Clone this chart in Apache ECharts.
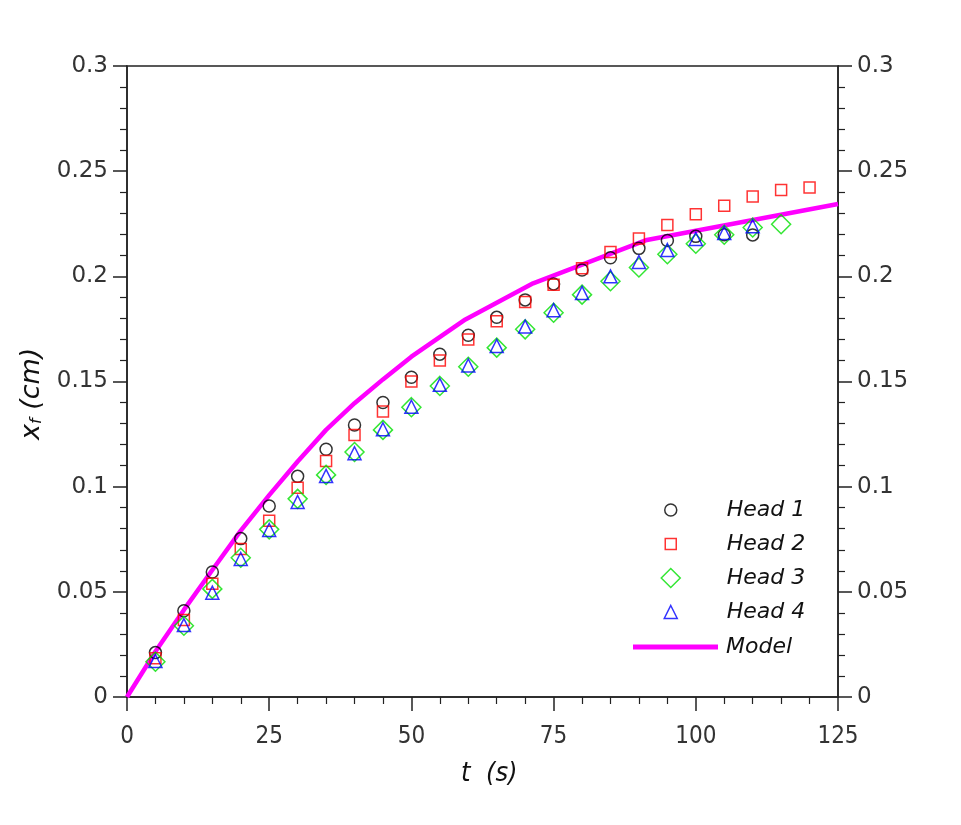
<!DOCTYPE html>
<html>
<head>
    <meta charset="utf-8">
    <title>x_f vs t</title>
    <script src="https://cdn.jsdelivr.net/npm/echarts@6/dist/echarts.min.js"></script>
    <style>
        html, body { margin: 0; padding: 0; background: #fff; }
        #main { width: 961px; height: 825px; }
    </style>
</head>
<body>
<div id="main"></div>
<script>
    // data
    var tHead1 = [5, 10, 15, 20, 25, 30, 35, 40, 45, 50, 55, 60, 65, 70, 75, 80, 85, 90, 95, 100, 105, 110];
    var xHead1 = [0.0211, 0.041, 0.0594, 0.0753, 0.0908, 0.1049, 0.1178, 0.1293, 0.140, 0.152, 0.163, 0.172,
        0.1805, 0.1888, 0.1964, 0.203, 0.2088, 0.2133, 0.217, 0.219, 0.2198, 0.2197];

    var tHead2 = [5, 10, 15, 20, 25, 30, 35, 40, 45, 50, 55, 60, 65, 70, 75, 80, 85, 90, 95, 100, 105, 110, 115, 120];
    var xHead2 = [0.0184, 0.0366, 0.0539, 0.0704, 0.0838, 0.0995, 0.1122, 0.1246, 0.1357, 0.150, 0.160, 0.170,
        0.1787, 0.1878, 0.196, 0.2038, 0.2116, 0.218, 0.2244, 0.2295, 0.2336, 0.2379, 0.2411, 0.2422];

    var tHead3 = [5, 10, 15, 20, 25, 30, 35, 40, 45, 50, 55, 60, 65, 70, 75, 80, 85, 90, 95, 100, 105, 110, 115];
    var xHead3 = [0.0168, 0.0339, 0.0514, 0.0662, 0.0797, 0.0942, 0.1056, 0.1165, 0.127, 0.1378, 0.1479, 0.157,
        0.1661, 0.1748, 0.1827, 0.1913, 0.1977, 0.2042, 0.2105, 0.2155, 0.2198, 0.2232, 0.2248];

    var tHead4 = [5, 10, 15, 20, 25, 30, 35, 40, 45, 50, 55, 60, 65, 70, 75, 80, 85, 90, 95, 100, 105, 110];
    var xHead4 = [0.0171, 0.0342, 0.0496, 0.0656, 0.0794, 0.0927, 0.1051, 0.1159, 0.1273, 0.138, 0.1484, 0.1576,
        0.1669, 0.1761, 0.1839, 0.1921, 0.2, 0.2068, 0.2125, 0.2178, 0.2206, 0.2238];

    var tModel = [0, 5, 10, 15, 20, 25, 30, 35, 40, 45, 50, 59.5, 71.4, 91.4, 125];
    var xModel = [0, 0.0216, 0.0414, 0.0604, 0.0791, 0.096, 0.112, 0.127, 0.1397, 0.151, 0.1618, 0.1795, 0.1967, 0.2173, 0.2344];

    var xTicks = [0, 25, 50, 75, 100, 125];
    var yTicks = [0, 0.05, 0.1, 0.15, 0.2, 0.25, 0.3];

    function pairs(t, v) {
        var out = [];
        for (var i = 0; i < t.length; i++) out.push([t[i], v[i]]);
        return out;
    }

    var axisColor = '#222';
    var labelFont = 'DejaVu Sans';
    var legendFont = 'DejaVu Sans';

    var heads = [
        {name: 'Head 1', t: tHead1, v: xHead1, symbol: 'circle', size: 12, color: '#000000', row: 510},
        {name: 'Head 2', t: tHead2, v: xHead2, symbol: 'rect', size: 11, color: '#ff0000', row: 544},
        {name: 'Head 3', t: tHead3, v: xHead3, symbol: 'diamond', size: 19, color: '#00e000', row: 578},
        {name: 'Head 4', t: tHead4, v: xHead4, symbol: 'triangle', size: 13, color: '#0000ff', row: 612}
    ];

    var series = [];
    var legends = [];
    heads.forEach(function (h) {
        series.push({
            name: h.name,
            type: 'scatter',
            symbol: h.symbol,
            symbolSize: h.size,
            itemStyle: {color: 'rgba(255,255,255,0)', borderColor: h.color, borderWidth: 1.5},
            emphasis: {disabled: true},
            z: 3,
            data: pairs(h.t, h.v)
        });
        legends.push({
            left: 670 - h.size / 2,
            top: h.row - 13,
            padding: 0,
            itemWidth: h.size,
            itemHeight: h.size,
            selectedMode: false,
            data: [{
                name: h.name,
                icon: h.symbol,
                itemStyle: {color: 'rgba(255,255,255,0)', borderColor: h.color, borderWidth: 1.5}
            }],
            textStyle: {
                fontFamily: legendFont, fontStyle: 'italic', fontSize: 22, color: '#111',
                lineHeight: 26, padding: [0, 0, 0, 51 - h.size / 2]
            }
        });
    });

    series.push({
        name: 'Model',
        type: 'line',
        showSymbol: false,
        symbol: 'none',
        lineStyle: {color: '#ff00ff', width: 4.5},
        itemStyle: {color: '#ff00ff'},
        emphasis: {disabled: true},
        z: 2,
        data: pairs(tModel, xModel)
    });
    legends.push({
        left: 633,
        top: 647 - 13,
        padding: 0,
        itemWidth: 85,
        itemHeight: 14,
        selectedMode: false,
        data: [{name: 'Model', icon: 'path://M0,0 L85,0 L85,5 L0,5 Z', itemStyle: {color: '#ff00ff'}}],
        textStyle: {
            fontFamily: legendFont, fontStyle: 'italic', fontSize: 22, color: '#111',
            lineHeight: 26, padding: [0, 0, 0, 3]
        }
    });

    function yAxisDef(pos) {
        return {
            type: 'value',
            position: pos,
            min: yTicks[0],
            max: yTicks[yTicks.length - 1],
            interval: 0.05,
            axisLine: {show: true, onZero: false, lineStyle: {color: axisColor, width: 1.5}},
            axisTick: {show: true, inside: false, length: 14, lineStyle: {color: axisColor, width: 1.5}},
            minorTick: {show: true, splitNumber: 5, length: 7, lineStyle: {color: axisColor, width: 1.2}},
            splitLine: {show: false},
            axisLabel: {
                margin: 19, fontFamily: labelFont, fontSize: 23, color: '#333',
                formatter: function (v) { return String(+v.toFixed(2)); }
            }
        };
    }

    var myChart = echarts.init(document.getElementById('main'), null, {renderer: 'canvas'});

    var option = {
        backgroundColor: '#ffffff',
        animation: false,
        grid: {
            left: 127, right: 123, top: 66, bottom: 128,
            show: true, borderColor: axisColor, borderWidth: 1.5, backgroundColor: 'transparent'
        },
        legend: legends,
        xAxis: {
            type: 'value',
            min: xTicks[0],
            max: xTicks[xTicks.length - 1],
            interval: 25,
            axisLine: {show: true, onZero: false, lineStyle: {color: axisColor, width: 1.5}},
            axisTick: {show: true, inside: false, length: 14, lineStyle: {color: axisColor, width: 1.5}},
            minorTick: {show: true, splitNumber: 5, length: 7, lineStyle: {color: axisColor, width: 1.2}},
            splitLine: {show: false},
            axisLabel: {
                margin: 28, fontFamily: 'DejaVu Sans Condensed', fontSize: 24, color: '#333'
            }
        },
        yAxis: [yAxisDef('left'), yAxisDef('right')],
        graphic: [
            {
                type: 'text',
                left: 461, top: 760,
                style: {
                    text: 't  (s)',
                    font: 'italic 27px "DejaVu Sans Condensed"',
                    fill: '#111'
                }
            },
            {
                type: 'text',
                x: 18, y: 440,
                rotation: Math.PI / 2,
                style: {
                    text: '{a|x}{b|f}{a| (cm)}',
                    rich: {
                        a: {fontFamily: 'DejaVu Sans', fontStyle: 'italic', fontSize: 27, fill: '#111'},
                        b: {fontFamily: 'DejaVu Sans', fontStyle: 'italic', fontSize: 16, fill: '#111', padding: [11, 0, 0, 0]}
                    }
                }
            }
        ],
        series: series
    };

    myChart.setOption(option);
</script>
</body>
</html>
